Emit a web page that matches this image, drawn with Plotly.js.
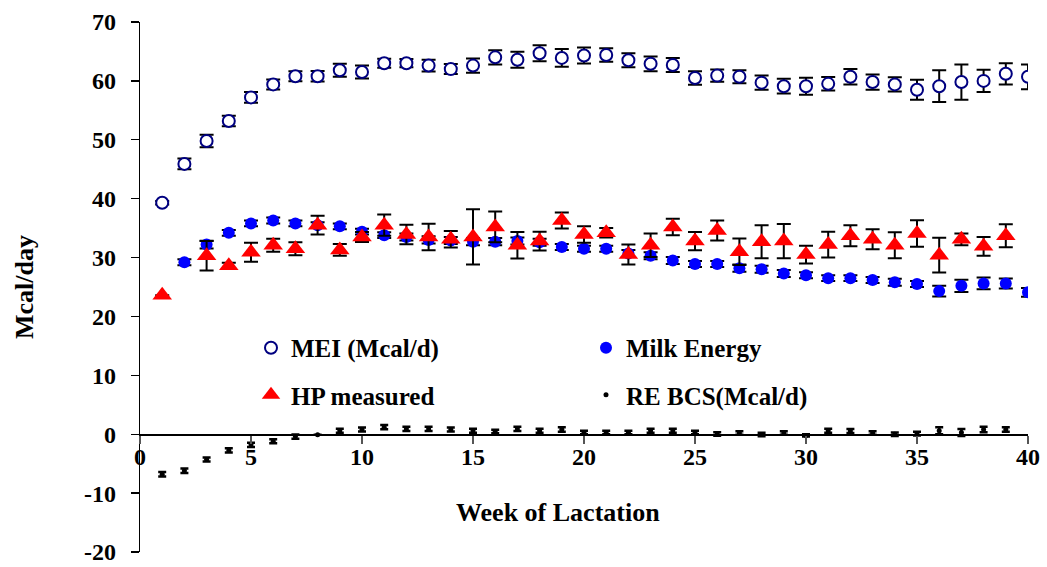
<!DOCTYPE html>
<html>
<head>
<meta charset="utf-8">
<script src="https://cdn.plot.ly/plotly-3.0.1.min.js"></script>
<style>
html,body{margin:0;padding:0;background:#fff;}
#chart{width:1047px;height:567px;}
</style>
</head>
<body>
<div id="chart"></div>
<script>
// ---- data ----
const meiWeeks = [1,2,3,4,5,6,7,8,9,10,11,12,13,14,15,16,17,18,19,20,21,22,23,24,25,26,27,28,29,30,31,32,33,34,35,36,37,38,39,40];
const meiValues = [39.3,45.9,49.8,53.2,57.2,59.4,60.8,60.8,61.8,61.5,63.0,63.0,62.6,62.0,62.6,64.0,63.6,64.7,63.9,64.3,64.4,63.5,62.9,62.7,60.5,60.9,60.7,59.7,59.1,59.1,59.5,60.7,59.8,59.4,58.5,59.1,59.8,60.0,61.2,60.7];
const meiErr = [0.3,0.9,1.05,0.9,0.9,0.85,0.85,0.9,1.1,1.1,0.75,0.7,1.0,0.85,1.2,1.2,1.35,1.35,1.5,1.35,1.15,1.2,1.25,1.2,1.15,1.05,1.1,1.2,1.25,1.45,1.15,1.3,1.3,1.2,1.7,2.7,3.0,1.9,1.8,2.1];

const milkWeeks = [2,3,4,5,6,7,8,9,10,11,12,13,14,15,16,17,18,19,20,21,22,23,24,25,26,27,28,29,30,31,32,33,34,35,36,37,38,39,40];
const milkValues = [29.2,32.2,34.2,35.8,36.3,35.8,35.5,35.3,34.4,33.8,33.5,33.0,32.9,32.7,32.7,32.8,32.6,31.8,31.5,31.5,30.7,30.3,29.5,28.9,28.9,28.2,28.0,27.3,27.0,26.5,26.5,26.2,25.8,25.5,24.3,25.2,25.6,25.6,24.1];
const milkErr = [0.5,0.65,0.5,0.5,0.5,0.5,0.5,0.5,0.5,0.5,0.6,0.6,0.6,0.6,0.6,0.6,0.6,0.5,0.5,0.5,0.6,0.6,0.6,0.5,0.5,0.6,0.6,0.6,0.5,0.5,0.5,0.5,0.6,0.5,0.9,1.05,1.0,0.85,0.75];

const hpWeeks = [1,3,4,5,6,7,8,9,10,11,12,13,14,15,16,17,18,19,20,21,22,23,24,25,26,27,28,29,30,31,32,33,34,35,36,37,38,39];
const hpValues = [23.6,30.3,28.6,30.9,32.1,31.5,35.5,31.3,33.5,35.5,33.9,33.5,33.1,33.5,35.2,32.1,32.8,36.3,33.9,34.2,30.5,32.1,35.2,32.8,34.6,31.0,32.7,32.8,30.5,32.2,33.7,33.1,32.1,34.1,30.4,33.1,31.9,33.7];
const hpErr = [0,2.5,0.5,1.6,1.1,1.1,1.6,1.0,0.85,1.8,1.65,2.25,1.4,4.7,2.6,2.25,1.6,1.35,1.4,0.8,1.7,2.0,1.4,1.55,1.7,2.25,2.8,2.9,1.5,2.2,1.8,1.7,2.2,2.25,2.95,1.0,1.6,1.95];

const reWeeks = [1,2,3,4,5,6,7,8,9,10,11,12,13,14,15,16,17,18,19,20,21,22,23,24,25,26,27,28,29,30,31,32,33,34,35,36,37,38,39];
const reValues = [-6.8,-6.2,-4.3,-2.75,-1.8,-1.2,-0.4,-0.1,0.6,0.8,1.2,0.9,0.9,0.8,0.6,0.45,0.9,0.6,0.8,0.3,0.3,0.3,0.6,0.6,0.3,0.05,0.2,-0.05,0.2,-0.2,0.6,0.55,0.2,0.0,0.1,0.6,0.3,0.8,0.8];
const reErr = [0.4,0.4,0.35,0.35,0.35,0.35,0.35,0,0.35,0.35,0.35,0.35,0.35,0.35,0.35,0.3,0.35,0.35,0.4,0.3,0.3,0.3,0.35,0.35,0.3,0.3,0.3,0.3,0.3,0.2,0.35,0.35,0.3,0.3,0.3,0.6,0.6,0.45,0.4];

const xTicks = [0,5,10,15,20,25,30,35,40];
const yTicks = [-20,-10,0,10,20,30,40,50,60,70];

// ---- styling ----
const FONT = "'Liberation Serif', 'Times New Roman', serif";
function errBar(arr, w, t){
  return {type:'data', array:arr, visible:true, color:'#000', thickness:t, width:w};
}

const traces = [
  {x:meiWeeks, y:meiValues, name:'<b>MEI (Mcal/d)</b>', type:'scatter', mode:'markers',
   marker:{symbol:'circle', size:12, color:'#ffffff', line:{color:'#000080', width:2}},
   error_y:errBar(meiErr,7,2), legend:'legend'},
  {x:milkWeeks, y:milkValues, name:'<b>Milk Energy</b>', type:'scatter', mode:'markers',
   marker:{symbol:'circle', size:12, color:'#0000FF'},
   error_y:errBar(milkErr,7,2), legend:'legend'},
  {x:hpWeeks, y:hpValues, name:'<b>HP measured</b>', type:'scatter', mode:'markers',
   marker:{symbol:'triangle-up', size:17, color:'#FF0000'},
   error_y:errBar(hpErr,7,2), legend:'legend2'},
  {x:reWeeks, y:reValues, name:'<b>RE BCS(Mcal/d)</b>', type:'scatter', mode:'markers',
   marker:{symbol:'circle', size:5, color:'#000000'},
   error_y:errBar(reErr,4,2.5), legend:'legend2'}
];

const legendCommon = {
  orientation:'h', xanchor:'left', yanchor:'middle',
  bgcolor:'rgba(0,0,0,0)', borderwidth:0,
  font:{family:FONT, size:25, color:'#000'},
  entrywidth:290, entrywidthmode:'pixels', traceorder:'normal'
};

const tickFont = {family:FONT, size:24, color:'#000'};

const layout = {
  width:1047, height:567,
  margin:{l:140, r:19, t:22, b:15},
  paper_bgcolor:'#fff', plot_bgcolor:'#fff',
  showlegend:true,
  legend:Object.assign({x:0.125, y:0.385}, legendCommon),
  legend2:Object.assign({x:0.125, y:0.296}, legendCommon),
  xaxis:{
    range:[0,40], tickvals:xTicks, ticktext:xTicks.map(v => '<b>' + v + '</b>'),
    anchor:'free', position:20/90,
    showline:true, linecolor:'#000', linewidth:1.3,
    ticks:'outside', ticklen:8, tickwidth:1.3, tickcolor:'#555',
    ticklabelstandoff:-7,
    showgrid:false, zeroline:false,
    tickfont:tickFont
  },
  yaxis:{
    range:[-20,70], tickvals:yTicks, ticktext:yTicks.map(v => '<b>' + v + '</b>'),
    showline:true, linecolor:'#000', linewidth:1.3,
    ticks:'outside', ticklen:8, tickwidth:1.3, tickcolor:'#000',
    ticklabelstandoff:10,
    showgrid:false, zeroline:false,
    tickfont:tickFont,
    title:{text:'<b>Mcal/day</b>', font:{family:FONT, size:26, color:'#000'}, standoff:42}
  },
  annotations:[
    {text:'<b>Week of Lactation</b>', xref:'paper', yref:'paper',
     x:(558-140)/888, y:(552-512)/530, xanchor:'center', yanchor:'middle',
     showarrow:false, font:{family:FONT, size:26, color:'#000'}}
  ]
};

Plotly.newPlot('chart', traces, layout, {displayModeBar:false, staticPlot:true});
</script>
</body>
</html>
